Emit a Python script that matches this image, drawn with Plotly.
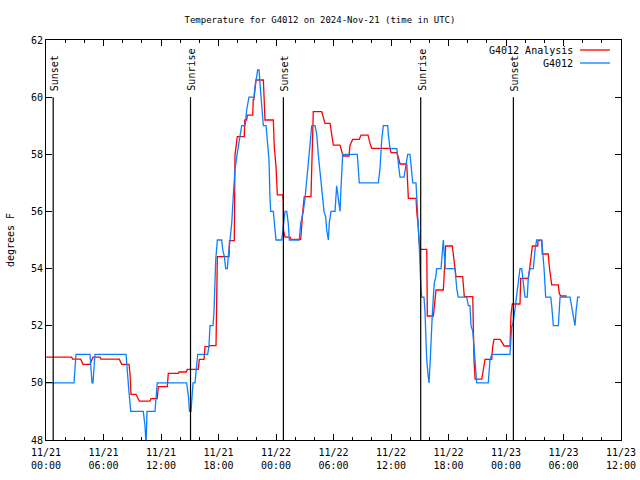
import pandas as pd
import plotly.graph_objects as go

# ---- data (hours since 2024-11-21 00:00 UTC, degrees F) ----
obs_hours = [0.00, 2.92, 3.13, 4.59, 4.80, 4.90, 5.11, 8.35, 8.63, 8.84, 10.15, 10.33, 10.44, 10.54,
             11.37, 11.61, 14.68, 14.87, 14.97, 15.13, 15.34, 15.55, 15.83, 16.87, 17.01, 17.11, 17.43,
             17.53, 17.64, 17.71, 17.88, 18.33, 18.44, 18.61, 18.75, 18.92, 19.02, 19.13, 19.38, 19.54,
             19.72, 19.96, 20.42, 20.77, 20.94, 21.18, 21.70, 21.81, 22.09, 22.23, 22.33, 22.44, 22.68,
             22.96, 23.09, 23.27, 23.37, 23.45, 23.72, 24.00, 24.60, 24.76, 24.94, 25.12, 25.28, 25.39,
             26.43, 26.58, 26.85, 27.03, 27.20, 27.37, 27.55, 27.73, 28.07, 28.25, 28.41, 28.66, 28.87,
             29.01, 29.19, 29.29, 29.46, 29.56, 29.74, 30.16, 30.33, 30.50, 30.68, 30.75, 30.86, 30.96,
             32.48, 32.59, 32.69, 34.68, 34.85, 35.03, 35.20, 35.66, 35.72, 35.90, 36.60, 36.76, 36.94,
             37.36, 37.57, 37.74, 37.98, 38.09, 38.27, 38.61, 38.79, 38.92, 39.10, 39.20, 39.44, 39.55,
             39.65, 39.73, 39.89, 39.97, 40.07, 40.17, 40.31, 40.42, 40.52, 40.67, 40.77, 41.22, 41.35,
             41.46, 41.56, 41.67, 42.68, 42.78, 42.86, 43.02, 43.90, 44.07, 44.24, 44.35, 44.53, 44.66,
             44.77, 44.94, 46.15, 46.26, 46.33, 46.51, 48.42, 48.60, 48.70, 48.87, 49.12, 49.28, 49.46,
             49.64, 49.74, 49.88, 49.98, 50.22, 50.33, 50.51, 50.85, 51.03, 51.20, 51.73, 51.83, 51.97,
             52.14, 52.67, 52.77, 52.87, 52.94, 53.46, 53.64, 54.68, 54.86, 54.96, 55.10, 55.20, 55.31,
             55.48, 55.72]
obs_temp = [50.0, 50.0, 51.0, 51.0, 50.0, 50.0, 51.0, 51.0, 49.8, 49.0, 49.0, 48.5, 47.8, 49.0,
            49.0, 50.0, 50.0, 49.5, 49.0, 49.0, 50.0, 50.0, 51.0, 51.0, 51.3, 52.0, 52.0,
            52.5, 53.6, 54.3, 55.0, 55.0, 54.65, 54.42, 54.0, 54.0, 54.42, 54.77, 55.58, 56.52,
            57.45, 58.03, 59.0, 59.0, 59.55, 60.0, 60.0, 60.37, 60.95, 60.95, 60.6, 60.0, 59.0,
            59.0, 58.5, 57.8, 56.5, 56.0, 56.0, 55.0, 55.0, 55.5, 56.0, 56.0, 55.58, 55.0,
            55.0, 55.58, 56.0, 56.46, 57.1, 57.8, 58.5, 59.0, 59.0, 58.7, 58.0, 57.22, 56.63,
            56.0, 55.8, 55.35, 55.0, 55.6, 56.0, 56.0, 56.9, 56.5, 56.0, 56.6, 57.5, 58.0,
            58.0, 57.5, 57.0, 57.0, 57.5, 58.5, 59.0, 59.0, 58.7, 58.2, 58.2, 57.7, 57.2,
            57.2, 57.6, 58.0, 58.0, 57.5, 57.0, 57.0, 56.0, 55.0, 53.5, 53.0, 53.0, 52.5,
            51.5, 50.8, 50.2, 50.0, 50.6, 51.5, 52.4, 53.0, 53.5, 53.7, 54.0, 54.0, 54.65,
            55.0, 54.5, 54.0, 54.0, 53.6, 53.3, 53.0, 53.0, 52.7, 52.7, 52.0, 51.8, 51.3,
            50.8, 50.0, 50.0, 50.45, 50.8, 51.0, 51.0, 52.0, 52.0, 52.4, 53.0, 53.5, 54.0,
            54.0, 53.7, 53.3, 53.0, 53.0, 53.7, 54.0, 54.0, 54.65, 55.0, 55.0, 54.65, 54.0,
            53.0, 53.0, 52.7, 52.3, 52.0, 52.0, 53.0, 53.0, 52.7, 52.5, 52.2, 52.0, 52.5,
            53.0, 53.0]

ana_hours = [0.00, 2.68, 2.77, 3.62, 3.86, 4.59, 4.90, 5.63, 5.74, 7.65, 7.90, 8.66, 8.77, 8.87,
             9.39, 9.74, 10.85, 10.96, 11.61, 11.72, 12.66, 12.76, 13.81, 13.88, 14.64, 14.74, 15.89,
             16.00, 16.49, 16.59, 17.01, 17.11, 17.74, 17.88, 19.10, 19.15, 19.65, 19.72, 19.96, 20.69,
             20.74, 20.94, 21.01, 21.57, 21.63, 21.70, 21.91, 22.68, 22.73, 22.85, 23.72, 23.82, 24.00,
             24.07, 24.14, 24.70, 24.76, 24.78, 24.94, 25.46, 25.57, 26.58, 26.68, 26.79, 26.95, 27.65,
             27.89, 28.77, 28.94, 29.11, 29.64, 29.81, 29.98, 30.68, 30.86, 30.99, 31.62, 31.72, 32.00,
             32.69, 32.87, 33.60, 33.81, 33.99, 35.90, 36.00, 36.60, 36.76, 36.94, 37.64, 37.81, 38.61,
             38.71, 38.82, 38.92, 39.03, 39.73, 39.79, 40.42, 40.52, 40.70, 41.46, 41.56, 41.71, 42.40,
             42.57, 42.68, 42.78, 43.48, 43.65, 44.53, 44.59, 44.66, 44.77, 45.47, 45.63, 45.81, 46.51,
             46.61, 46.75, 47.38, 47.72, 47.79, 48.42, 48.52, 48.66, 49.46, 49.53, 50.33, 50.58, 50.75,
             51.31, 51.34, 51.73, 51.79, 52.41, 52.52, 52.77, 53.46, 53.56, 53.71, 54.34]
ana_temp = [50.9, 50.9, 50.83, 50.83, 50.65, 50.65, 50.9, 50.9, 50.83, 50.83, 50.65, 50.65, 50.3, 49.6,
            49.6, 49.36, 49.36, 49.45, 49.45, 49.87, 49.87, 50.33, 50.33, 50.38, 50.38, 50.47, 50.47,
            50.82, 50.82, 51.27, 51.27, 51.3, 51.3, 54.42, 54.42, 54.98, 54.98, 57.97, 58.62, 58.62,
            59.2, 59.2, 59.37, 59.37, 59.92, 59.92, 60.6, 60.6, 60.2, 59.2, 59.2, 58.27, 57.57,
            56.93, 56.58, 56.58, 56.34, 55.35, 55.1, 55.1, 55.02, 55.02, 55.7, 55.99, 56.52, 56.52,
            59.49, 59.49, 59.29, 59.08, 59.08, 58.73, 58.32, 58.32, 58.03, 57.94, 57.94, 58.32, 58.52,
            58.52, 58.67, 58.67, 58.38, 58.21, 58.21, 58.06, 58.06, 57.92, 57.66, 57.66, 56.46, 56.46,
            55.9, 55.58, 55.0, 54.67, 54.67, 52.34, 52.34, 52.78, 53.25, 53.25, 53.95, 54.79, 54.79,
            54.24, 53.95, 53.72, 53.72, 53.02, 53.02, 51.79, 50.8, 50.13, 50.13, 50.45, 50.82, 50.82,
            51.27, 51.52, 51.52, 51.35, 51.29, 51.29, 52.38, 52.76, 52.76, 53.66, 53.66, 54.3, 54.79,
            54.79, 54.98, 54.98, 54.51, 54.51, 54.07, 53.43, 53.43, 53.13, 53.04, 53.04]

sun_hours = [0.75, 15.08, 24.77, 39.10, 48.77]
sun_labels = ["Sunset", "Sunrise", "Sunset", "Sunrise", "Sunset"]

series_names = ["G4012 Analysis", "G4012"]
y_ticks = [48, 50, 52, 54, 56, 58, 60, 62]

base = pd.Timestamp("2024-11-21 00:00")
to_t = lambda hs: [base + pd.Timedelta(hours=h) for h in hs]

FONT = "DejaVu Sans Mono"
RED = "#ff0000"
BLUE = "#0a80ff"

# plot area in pixels (gnuplot-like layout)
L, R, T, B = 46, 621, 40, 440
PW, PH = R - L, B - T

fig = go.Figure()
fig.add_trace(go.Scatter(x=to_t(ana_hours), y=ana_temp, mode="lines", name=series_names[0],
                         line=dict(color=RED, width=1.3), showlegend=False))
fig.add_trace(go.Scatter(x=to_t(obs_hours), y=obs_temp, mode="lines", name=series_names[1],
                         line=dict(color=BLUE, width=1.3), showlegend=False))

for t, lab in zip(to_t(sun_hours), sun_labels):
    fig.add_shape(type="line", x0=t, x1=t, y0=48, y1=60, xref="x", yref="y",
                  line=dict(color="black", width=1.2))
    fig.add_annotation(x=t, y=60, xref="x", yref="y", text=lab, textangle=-90, showarrow=False,
                       xanchor="center", yanchor="bottom", yshift=4, xshift=1,
                       font=dict(family=FONT, size=10, color="black"))

# gnuplot-style key (text, then line sample on the right)
for i, (nm, col) in enumerate(zip(series_names, [RED, BLUE])):
    ypix = 50 + 13 * i
    yp = 1 - (ypix - T) / PH
    fig.add_annotation(x=(575 - L) / PW, y=yp, xref="paper", yref="paper", text=nm, showarrow=False,
                       xanchor="right", yanchor="middle", font=dict(family=FONT, size=10, color="black"))
    fig.add_shape(type="line", xref="paper", yref="paper", x0=(580 - L) / PW, x1=(610 - L) / PW,
                  y0=yp, y1=yp, line=dict(color=col, width=1.3))

fig.update_layout(
    width=640, height=480,
    margin=dict(l=L, r=640 - R, t=T, b=480 - B, autoexpand=False),
    paper_bgcolor="white", plot_bgcolor="white",
    font=dict(family=FONT, size=10, color="black"),
    title=dict(text="Temperature for G4012 on 2024-Nov-21 (time in UTC)", x=0.5, xref="container",
               xanchor="center", y=1 - 20 / 480, yanchor="middle",
               font=dict(family=FONT, size=9, color="black")),
)
fig.update_xaxes(
    type="date", automargin=False,
    range=[base, base + pd.Timedelta(hours=60)],
    tick0=base, dtick=6 * 3600 * 1000, tickformat="%m/%d<br>%H:%M",
    ticks="inside", ticklen=6, tickcolor="black", tickwidth=1,
    minor=dict(dtick=2 * 3600 * 1000, ticks="inside", ticklen=3, tickcolor="black"),
    showline=True, linecolor="black", linewidth=1, mirror="ticks",
    showgrid=False, zeroline=False, ticklabelstandoff=3,
    tickfont=dict(family=FONT, size=10, color="black"),
)
fig.update_yaxes(
    automargin=False,
    range=[48, 62], tickvals=y_ticks,
    ticks="inside", ticklen=6, tickcolor="black",
    showline=True, linecolor="black", linewidth=1, mirror="ticks",
    showgrid=False, zeroline=False,
    title=dict(text="degrees F", font=dict(family=FONT, size=10, color="black"), standoff=14),
    tickfont=dict(family=FONT, size=10, color="black"),
)

fig.write_html("out.html", config={"displayModeBar": False},
               post_script="document.body.style.margin='0';document.body.style.padding='0';")
